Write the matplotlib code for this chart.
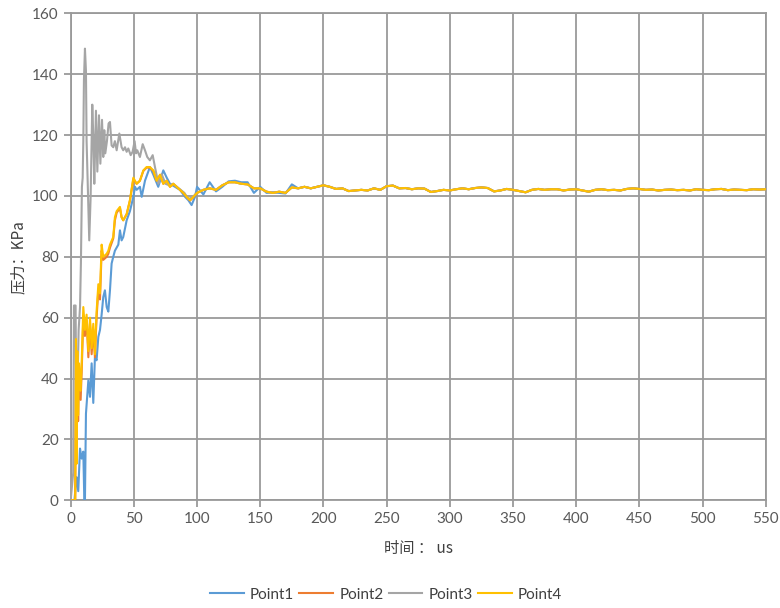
import numpy as np
import matplotlib
matplotlib.use('Agg')
from matplotlib import pyplot as plt

# Data (time in us, pressure in KPa)
# Early part, each series has its own sampling:
p1_t = [0, 3, 4, 4.7, 6, 7.4, 8.7, 10, 10.8, 11.3, 12.1, 14, 15.3, 16.6, 17.9, 19.2, 20.5, 21.9, 23.2,
        24.5, 25.8, 27.1, 28.5, 29.8, 31.1, 32.4, 33.7, 35, 37.7, 39, 40.3, 41.6, 44.3, 46.9, 49.6, 50.9,
        52.2, 54.8, 56.2, 58.8, 62.7, 65.4, 69.3, 73.3, 76, 78.6, 82.6, 86.5, 90.5, 93.1, 95.7, 98.4]
p1_v = [0, 0, 5, 7.6, 3, 17, 13.7, 16, 0, 0, 28.5, 39.4, 34, 45, 32, 47, 46, 53.7, 56,
        61, 66.8, 69, 63.5, 62, 69, 77.8, 80, 82, 84, 88.7, 85.4, 86.5, 92, 95, 99.7, 103,
        102, 103, 99.7, 105, 109.5, 107, 103, 108.4, 106, 104, 103, 102, 99.7, 98.6, 97, 99.7]

p2_t = [0, 3.6, 4.2, 4.7, 5.3, 5.9, 6.6, 7.9, 8.7, 10, 11.3, 12.6, 14, 15.3, 16.6, 17.9, 19.2, 20.5,
        21.9, 23.2, 24.5, 25.8, 28.5, 29.8, 31.1, 33.7, 35, 36.4, 39, 40.3, 41.6, 44.3, 46.9, 49.6, 52.2,
        54.8, 57.5, 60.1, 62.7, 65.4, 68, 70.7, 73.3, 76, 78.6, 81.2, 83.9, 86.5, 89.2, 91.8, 94.5, 97.1]
p2_v = [0, 0, 50, 14, 46, 26, 42, 33, 42, 60, 54, 59, 47, 58, 48, 56, 47, 60,
        69, 66, 82, 79, 80, 81, 83, 86, 92, 94.5, 96, 93, 92, 94, 98.5, 105.5, 104,
        105, 108.2, 109.3, 109.3, 108.2, 105, 106.8, 104, 105, 103, 104, 103, 102, 101, 99.6, 98.5, 99.6]

p3_t = [0, 2, 2.6, 3.9, 4.2, 5.2, 6.3, 7.4, 8.1, 8.9, 9.5, 10, 10.5, 11.3, 12.1, 12.6, 13.7, 14.7, 15.8,
        17.1, 17.9, 18.7, 20, 21.1, 22.4, 23.5, 24.8, 25.8, 26.6, 27.4, 28.7, 30, 31.1, 32.4, 33.7, 35,
        36.4, 38.5, 40.3, 41.6, 43, 44.3, 45.6, 47.5, 49, 50.6, 51.7, 52.7, 54.8, 57, 58.8, 60.6, 62.7,
        64.9, 66.7, 69.4, 72, 75, 78, 81, 84, 87, 90, 93, 96]
p3_v = [0, 9, 64, 64, 45, 34, 56, 63.5, 77.8, 103, 106, 118, 138, 148.4, 141, 118, 100.8, 85.4, 99.7,
        130, 119.6, 104, 128, 108, 126.5, 110.6, 125, 112.8, 121.6, 114, 118, 123.8, 124.3, 116.6, 116, 118,
        115, 120.5, 116, 115, 116, 114.5, 115.6, 113.4, 114.5, 118, 114, 115, 112.8, 117, 115, 112.8, 111.7,
        113.4, 109.5, 104, 107.2, 104, 103.5, 104, 103, 102, 101, 99, 99.5]

p4_t = [0, 3.6, 4.2, 4.7, 5.3, 5.9, 6.6, 7.9, 8.7, 10, 11.3, 12.6, 14, 15.3, 16.6, 17.9, 19.2, 20.5,
        21.9, 23.2, 24.5, 25.8, 28.5, 29.8, 31.1, 33.7, 35, 36.4, 39, 40.3, 41.6, 44.3, 46.9, 49.6, 52.2,
        54.8, 57.5, 60.1, 62.7, 65.4, 68, 70.7, 73.3, 76, 78.6, 81.2, 83.9, 86.5, 89.2, 91.8, 94.5, 97.1]
p4_v = [0, 0, 53, 12, 49, 28, 45, 36, 45, 63.5, 56, 61, 49, 60, 50, 58, 48, 62,
        71, 68, 84, 80, 81, 82, 84, 86.5, 93, 95, 96.4, 93, 92, 94, 98.6, 106, 104,
        105, 108.4, 109.5, 109.5, 108.4, 105, 107, 104, 105, 103, 104, 103, 102, 101, 99.7, 98.6, 99.7]

# 100..175 us (Point1 wiggles a bit more than the others)
mid_t = [100, 105, 110, 115, 120, 125, 130, 135, 140, 145, 150, 155, 160, 165, 170, 175]
mid_v = [101, 102, 102.5, 102, 103.5, 104.5, 104.5, 104, 103.8, 102.5, 102.5, 101.4, 101, 101.4, 101, 102.8]
p1_mid_v = [103, 100.5, 104.5, 101.5, 103, 104.8, 105, 104.5, 104.5, 101, 103, 101, 101.2, 101, 100.8, 103.8]

# 180..550 us, all series almost on top of each other
tail_t = [180, 185, 190, 195, 200, 205, 210, 215, 220, 225, 230, 235, 240, 245, 250, 255, 260, 265, 270,
          275, 280, 285, 290, 295, 300, 305, 310, 315, 320, 325, 330, 335, 340, 345, 350, 355, 360, 365,
          370, 375, 380, 385, 390, 395, 400, 405, 410, 415, 420, 425, 430, 435, 440, 445, 450, 455, 460,
          465, 470, 475, 480, 485, 490, 495, 500, 505, 510, 515, 520, 525, 530, 535, 540, 545, 550]
tail_v = [102.5, 103, 102.5, 103, 103.5, 103, 102.3, 102.5, 101.6, 101.8, 102, 101.8, 102.5, 102, 103.2,
          103.4, 102.5, 102.6, 102.2, 102.5, 102.4, 101.3, 101.6, 102, 101.8, 102.2, 102.5, 102.2, 102.6,
          102.8, 102.6, 101.5, 101.8, 102.3, 102, 101.6, 101.2, 102, 102.3, 102, 102.2, 102.2, 101.8, 102.1,
          102.2, 101.8, 101.4, 102, 102.2, 101.9, 102, 101.8, 102.3, 102.5, 102.3, 102, 102.1, 101.8, 102,
          102.1, 101.9, 102, 101.8, 102.2, 102, 101.9, 102.2, 102.3, 101.9, 102.1, 102, 101.9, 102.2, 102.1,
          102.2]

names = ['Point1', 'Point2', 'Point3', 'Point4']
colors = ['#5B9BD5', '#ED7D31', '#A5A5A5', '#FFC000']

series = [
    (p1_t + mid_t + tail_t, p1_v + p1_mid_v + tail_v),
    (p2_t + mid_t + tail_t, p2_v + mid_v + tail_v),
    (p3_t + mid_t + tail_t, p3_v + mid_v + tail_v),
    (p4_t + mid_t + tail_t, p4_v + mid_v + tail_v),
]

num_font = ['Lato', 'DejaVu Sans']
cjk_font = ['Noto Sans CJK SC', 'DejaVu Sans']
grid_c = '#9a9a9a'

fig = plt.figure(figsize=(7.8, 6.08), dpi=100)
ax = fig.add_axes([0.0906, 0.1771, 0.8911, 0.8010])

for (t, v), name, c in zip(series, names, colors):
    ax.plot(t, v, color=c, lw=1.5, label=name, zorder=3)

ax.set_xlim(0, 550)
ax.set_ylim(0, 160)
ax.set_xticks(np.arange(0, 551, 50))
ax.set_yticks(np.arange(0, 161, 20))
ax.grid(True, color=grid_c, lw=1.3)
for s in ax.spines.values():
    s.set_color(grid_c)
    s.set_linewidth(1.3)
ax.tick_params(colors=grid_c, length=5, width=1.3, labelcolor='#595959', labelsize=11)
for lab in ax.get_xticklabels() + ax.get_yticklabels():
    lab.set_family(num_font)

ax.set_xlabel('时间 ： us', family=cjk_font, fontsize=11, color='#404040', labelpad=10)
ax.set_ylabel('压力：KPa', family=cjk_font, fontsize=11, color='#404040', labelpad=4)

leg = fig.legend(loc='lower center', bbox_to_anchor=(0.495, -0.012), ncol=4, frameon=False,
                 handlelength=2.2, columnspacing=0.35, handletextpad=0.4,
                 prop={'family': num_font, 'size': 11})
for txt in leg.get_texts():
    txt.set_color('#404040')

fig.savefig('out.png', dpi=100)
plt.close(fig)
